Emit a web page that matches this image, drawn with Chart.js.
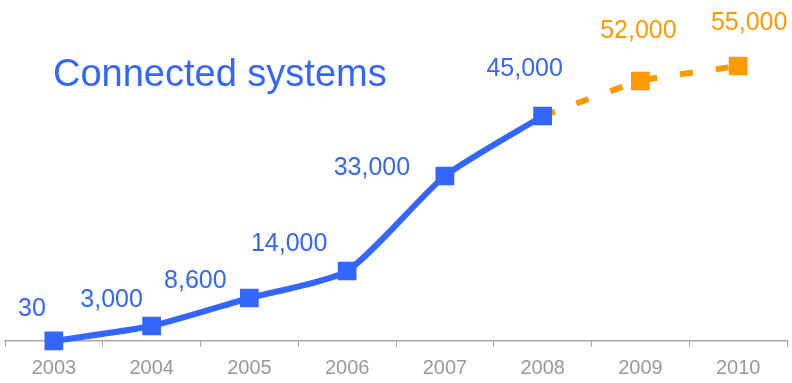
<!doctype html>
<html lang="en">
  <head>
    <meta charset="UTF-8" />
    <title>Connected systems</title>
    <script src="https://cdn.jsdelivr.net/npm/chart.js@4.4.1/dist/chart.umd.min.js"></script>
    <style>
      html, body { margin: 0; padding: 0; background: #fff; }
      #wrap { width: 792px; height: 383px; }
    </style>
  </head>
  <body>
    <div id="wrap"><canvas id="chart" width="792" height="383"></canvas></div>
    <script>
      // data
      const years = ["2003", "2004", "2005", "2006", "2007", "2008", "2009", "2010"];
      const actual = [30, 3000, 8600, 14000, 33000, 45000, null, null];
      const forecast = [null, null, null, null, null, 45000, 52000, 55000];
      const valueLabels = ["30", "3,000", "8,600", "14,000", "33,000", "45,000", "52,000", "55,000"];

      const BLUE = "#3366ff";
      const ORANGE = "#ff9900";

      // value labels, drawn beside each point
      const labelPlugin = {
        id: "valueLabels",
        afterDatasetsDraw(chart, args, opts) {
          const ctx = chart.ctx;
          const meta0 = chart.getDatasetMeta(0);
          const meta1 = chart.getDatasetMeta(1);
          ctx.save();
          ctx.font = opts.font;
          ctx.textAlign = "center";
          ctx.textBaseline = "middle";
          valueLabels.forEach((txt, i) => {
            const pt = actual[i] !== null ? meta0.data[i] : meta1.data[i];
            const off = opts.offsets[i];
            ctx.fillStyle = actual[i] !== null ? BLUE : ORANGE;
            ctx.fillText(txt, pt.x + off[0], pt.y + off[1]);
          });
          // heading
          ctx.textAlign = "left";
          ctx.textBaseline = "alphabetic";
          ctx.font = opts.titleFont;
          ctx.fillStyle = BLUE;
          ctx.fillText("Connected systems", 53, 86);
          ctx.restore();
        },
      };

      new Chart(document.getElementById("chart"), {
        type: "line",
        data: {
          labels: years,
          datasets: [
            {
              data: actual,
              borderColor: BLUE,
              backgroundColor: BLUE,
              borderWidth: 6,
              pointStyle: "rect",
              pointRadius: 9,
              pointHoverRadius: 9,
              tension: 0.2,
              order: 1,
            },
            {
              data: forecast,
              borderColor: ORANGE,
              backgroundColor: ORANGE,
              borderWidth: 6,
              borderDash: [13, 23],
              pointStyle: "rect",
              pointRadius: [0, 0, 0, 0, 0, 0, 9, 9],
              pointHoverRadius: 9,
              tension: 0.15,
              order: 2,
            },
          ],
        },
        options: {
          responsive: false,
          animation: false,
          clip: false,
          layout: { autoPadding: false, padding: { top: 41, left: 5, right: 5, bottom: 0 } },
          plugins: {
            legend: { display: false },
            tooltip: { enabled: false },
            valueLabels: {
              font: "25px 'Liberation Sans', Arial, sans-serif",
              titleFont: "38px 'Liberation Sans', Arial, sans-serif",
              offsets: [
                [-22, -32], [-40, -26], [-54, -17], [-58, -27],
                [-73, -8], [-18, -47], [-2, -50], [11, -43],
              ],
            },
          },
          scales: {
            x: {
              offset: true,
              afterFit(scale) { scale.height = 42; },
              grid: {
                offset: true,
                drawOnChartArea: false,
                drawTicks: true,
                tickLength: 6,
                tickColor: "#a6a6a6",
              },
              border: { display: true, color: "#a6a6a6", width: 1.5 },
              ticks: {
                color: "#999999",
                padding: 9,
                font: { family: "'Liberation Sans', Arial, sans-serif", size: 20 },
              },
            },
            y: {
              display: false,
              min: 0,
              max: 60000,
            },
          },
        },
        plugins: [labelPlugin],
      });
    </script>
  </body>
</html>
